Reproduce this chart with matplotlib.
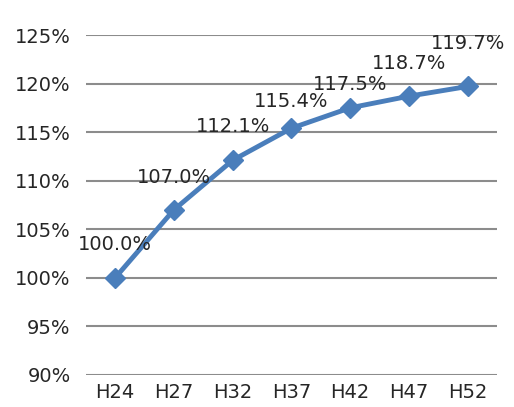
import matplotlib
matplotlib.use("Agg")
import matplotlib.pyplot as plt
from matplotlib.ticker import FuncFormatter

years = ["H24", "H27", "H32", "H37", "H42", "H47", "H52"]
ratio = [100.0, 107.0, 112.1, 115.4, 117.5, 118.7, 119.7]
yticks = [90, 95, 100, 105, 110, 115, 120, 125]

# label lift above each point, in points (as placed in the original)
label_lift = [24, 23, 24, 19.5, 17, 23.5, 31]

plt.rcParams['font.family'] = ['DejaVu Sans']

fig = plt.figure(figsize=(5.14, 4.07), dpi=100)
ax = fig.add_axes([0.167, 0.079, 0.8, 0.835])

x = list(range(len(years)))
ax.plot(x, ratio, color='#4A7EBB', linewidth=3.5, marker='D', markersize=10,
        markerfacecolor='#4A7EBB', markeredgecolor='#4A7EBB', zorder=3)

for xi, v, dy in zip(x, ratio, label_lift):
    ax.annotate(f"{v:.1f}%", (xi, v), xytext=(0, dy), textcoords='offset points',
                ha='center', va='center', fontsize=14, color='#262626', zorder=4)

ax.set_xlim(-0.5, len(years) - 0.5)
ax.set_ylim(90, 125)
ax.set_yticks(yticks)
ax.yaxis.set_major_formatter(FuncFormatter(lambda v, p: f"{v:.0f}%"))
ax.set_xticks(x)
ax.set_xticklabels(years)
ax.grid(axis='y', color='#8C8C8C', linewidth=1.5)
ax.set_axisbelow(True)
for s in ax.spines.values():
    s.set_visible(False)
ax.tick_params(length=0, labelsize=14, colors='#262626')
ax.tick_params(axis='y', pad=11)
ax.tick_params(axis='x', pad=6)

fig.savefig("out.png", dpi=100)
